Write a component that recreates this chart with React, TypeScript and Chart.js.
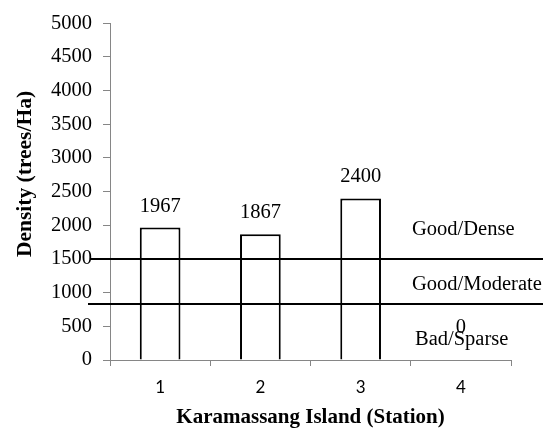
import React, { useEffect, useRef } from "react";
import { Chart, registerables } from "chart.js";

Chart.register(...registerables);

const stations = ["1", "2", "3", "4"];
const density = [1967, 1867, 2400, 0];
const yMin = 0;
const yMax = 5000;
const yStep = 500;
const thresholds = [1500, 825];
const zoneLabels = ["Good/Dense", "Good/Moderate", "Bad/Sparse"];
const xTitle = "Karamassang Island (Station)";
const yTitle = "Density (trees/Ha)";

const SERIF = "'Liberation Serif', 'Times New Roman', serif";
const SANS = "Lato, 'Open Sans', sans-serif";
const AXIS = "#868686";

const overlay = {
  id: "overlay",
  afterDatasetsDraw(chart: any) {
    const { ctx } = chart;
    const y = chart.scales.y;
    ctx.save();
    // threshold lines
    ctx.strokeStyle = "#000";
    ctx.lineWidth = 2;
    thresholds.forEach((v, i) => {
      const py = Math.round(y.getPixelForValue(v));
      ctx.beginPath();
      ctx.moveTo(i === 0 ? 90 : 88, py);
      ctx.lineTo(chart.width, py);
      ctx.stroke();
    });
    // data labels
    const meta = chart.getDatasetMeta(0);
    ctx.fillStyle = "#000";
    ctx.font = `20.5px ${SERIF}`;
    ctx.textAlign = "center";
    ctx.textBaseline = "alphabetic";
    meta.data.forEach((bar: any, i: number) => {
      const gap = density[i] === 0 ? 27 : 16;
      ctx.fillText(String(density[i]), bar.x, bar.y - gap);
    });
    // zone labels
    ctx.textAlign = "left";
    ctx.fillText(zoneLabels[0], 412, 235);
    ctx.fillText(zoneLabels[1], 412, 290);
    ctx.fillText(zoneLabels[2], 415, 345);
    // y title
    ctx.translate(25, 174);
    ctx.rotate(-Math.PI / 2);
    ctx.font = `bold 21.5px ${SERIF}`;
    ctx.textAlign = "center";
    ctx.textBaseline = "middle";
    ctx.fillText(yTitle, 0, 0);
    ctx.restore();
  },
};

export default function App() {
  const ref = useRef<HTMLCanvasElement>(null);
  useEffect(() => {
    document.body.style.margin = "0";
    const chart = new Chart(ref.current as HTMLCanvasElement, {
      type: "bar",
      data: {
        labels: stations,
        datasets: [
          {
            data: density,
            backgroundColor: "#ffffff",
            borderColor: "#000000",
            borderWidth: 2,
            barPercentage: 0.406,
            categoryPercentage: 1,
          },
        ],
      },
      options: {
        responsive: false,
        animation: false,
        devicePixelRatio: 1,
        layout: { padding: { top: 20, right: 32, bottom: 0, left: 0 } },
        plugins: { legend: { display: false }, tooltip: { enabled: false } },
        scales: {
          x: {
            grid: {
              drawOnChartArea: false,
              drawTicks: true,
              tickLength: 6,
              color: AXIS,
              offset: true,
            },
            border: { display: true, color: AXIS, width: 1 },
            ticks: { color: "#000", font: { family: SANS, size: 17 }, padding: 11 },
            title: {
              display: true,
              text: xTitle,
              color: "#000",
              font: { family: SERIF, size: 21, weight: "bold" },
              padding: { top: 0, bottom: 2 },
            },
            afterFit(scale: any) {
              scale.height = 72;
            },
          },
          y: {
            min: yMin,
            max: yMax,
            grid: {
              drawOnChartArea: false,
              drawTicks: true,
              tickLength: 7,
              color: AXIS,
            },
            border: { display: true, color: AXIS, width: 1 },
            ticks: {
              stepSize: yStep,
              color: "#000",
              font: { family: SERIF, size: 20.5 },
              padding: 11,
              callback: (v: any) => String(v),
            },
            afterFit(scale: any) {
              scale.width = 110;
            },
          },
        },
      },
      plugins: [overlay],
    });
    return () => chart.destroy();
  }, []);
  return (
    <div style={{ width: 543, height: 432 }}>
      <canvas ref={ref} width={543} height={432} />
    </div>
  );
}
